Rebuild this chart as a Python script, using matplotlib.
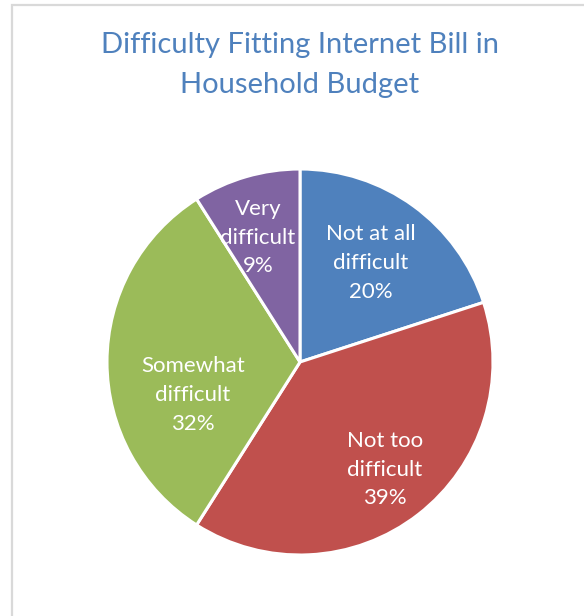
import matplotlib
matplotlib.use("Agg")
import matplotlib.pyplot as plt
import numpy as np
from matplotlib.patches import Rectangle

labels = ["Not at all\ndifficult", "Not too\ndifficult", "Somewhat\ndifficult", "Very\ndifficult"]
shares = [20, 39, 32, 9]
colors = ["#4F81BD", "#C0504D", "#9BBB59", "#8064A2"]
title = "Difficulty Fitting Internet Bill in\nHousehold Budget"

plt.rcParams["font.family"] = ["Lato", "DejaVu Sans"]

W, H = 584, 616
fig = plt.figure(figsize=(W / 100, H / 100), dpi=100)
ax = fig.add_axes([0, 0, 1, 1])

cx, cy, R = 300, H - 362, 193
wedges, _ = ax.pie(shares, colors=colors, startangle=90, counterclock=False,
                   center=(cx, cy), radius=R, frame=True,
                   wedgeprops=dict(edgecolor="white", linewidth=2.2))
ax.set_xlim(0, W)
ax.set_ylim(0, H)
ax.axis("off")

# chart frame (light gray, runs off the right/bottom edge)
ax.add_patch(Rectangle((12, -10), W, H - 5 + 10, fill=False, edgecolor="#D9D9D9", linewidth=1.6))

# label placement: radius fraction and angle nudge (deg) per slice
rfrac = [0.63, 0.71, 0.58, 0.68]
nudge = [0.5, 0.4, 17, 2.5]
for w, lab, s, rf, dn in zip(wedges, labels, shares, rfrac, nudge):
    mid = np.deg2rad((w.theta1 + w.theta2) / 2 + dn)
    x = cx + rf * R * np.cos(mid)
    y = cy + rf * R * np.sin(mid)
    ax.text(x, y, f"{lab}\n{s}%", color="white", fontsize=16, ha="center", va="center",
            linespacing=1.55)

ax.text(W / 2 + 8, H - 65, title, color="#4F81BD", fontsize=21, ha="center", va="center",
        linespacing=1.62)

fig.savefig("out.png", dpi=100)
